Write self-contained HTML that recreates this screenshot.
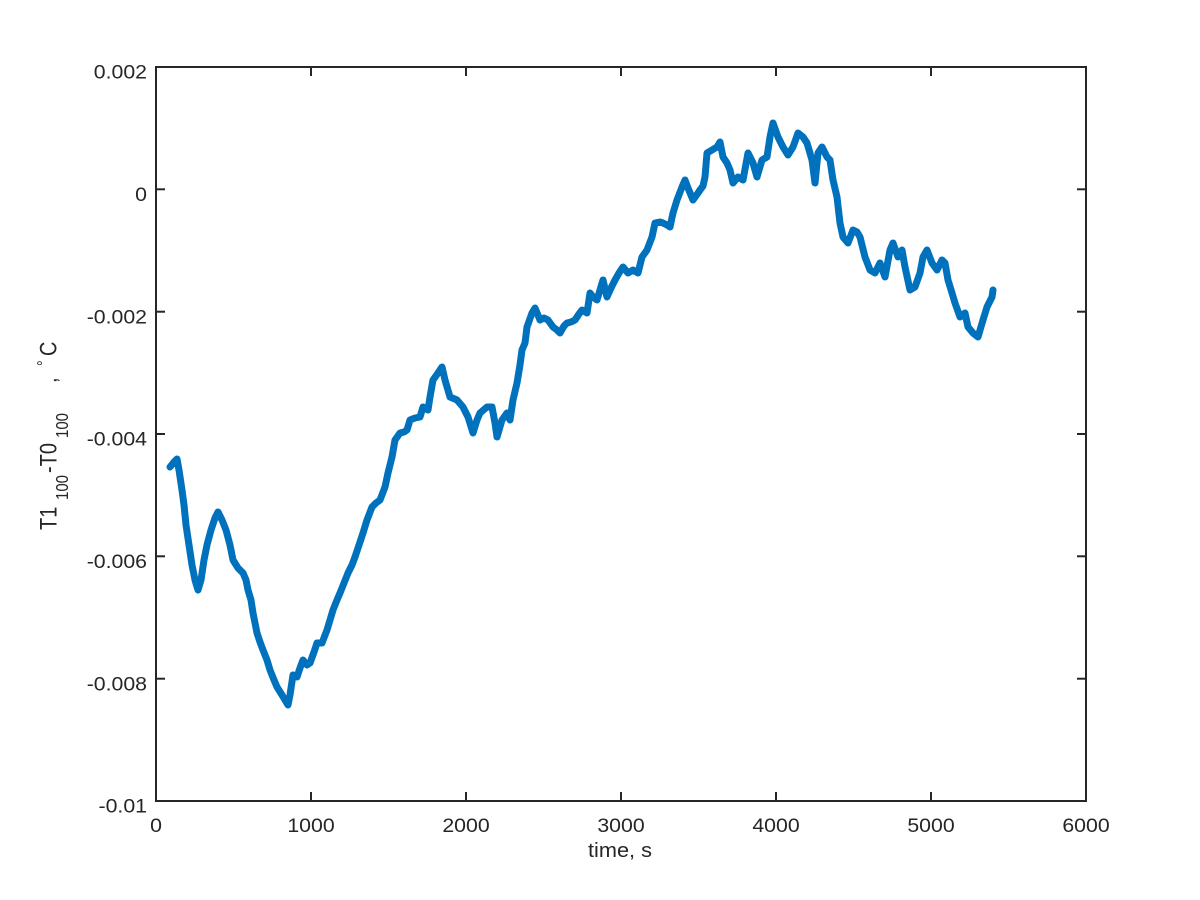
<!DOCTYPE html>
<html>
<head>
<meta charset="utf-8">
<style>
  html, body { margin: 0; padding: 0; background: #ffffff; }
  svg { display: block; }
  text { font-family: "Liberation Sans", "DejaVu Sans", sans-serif; fill: #262626; }
</style>
</head>
<body>
<svg width="1200" height="900" viewBox="0 0 1200 900" xmlns="http://www.w3.org/2000/svg">
  <rect x="0" y="0" width="1200" height="900" fill="#ffffff"/>

  <!-- data trace -->
  <polyline fill="none" stroke="#0072BD" stroke-width="7" stroke-linejoin="round" stroke-linecap="round"
    points="170,467 174,462 177,459 179,470 182,490 184,505 186,525 189,545 192,565 195,580 198,590 201,580 204,560 207,545 211,530 215,518 218,512 222,520 226,530 230,545 233,560 238,568 243,573 246,580 248,590 251,600 253,613 257,633 260,642 263,650 267,660 270,670 274,680 277,687 282,695 285,700 288,705 290,695 293,675 297,677 300,668 303,660 307,665 310,663 314,652 317,643 322,643 327,630 330,620 333,610 337,600 340,593 344,583 348,573 352,565 355,557 359,545 363,533 367,520 372,507 376,503 380,500 385,487 388,473 392,457 395,440 400,433 404,432 407,430 410,420 415,418 420,417 423,407 428,410 430,397 433,380 438,373 442,367 445,380 450,397 457,400 463,407 468,417 473,433 477,420 480,413 487,407 492,407 495,423 497,437 502,420 507,413 510,420 513,400 517,383 520,365 522,350 525,343 527,327 532,313 535,308 540,320 544,318 548,320 553,327 557,330 560,333 564,326 567,323 571,322 575,320 579,314 582,310 587,313 590,293 593,297 597,300 600,290 603,280 607,297 611,288 615,280 619,273 623,267 628,273 633,270 638,273 642,257 647,250 652,237 655,223 660,222 663,223 667,225 670,227 673,213 677,200 682,187 685,180 688,188 693,200 698,193 700,190 703,186 705,177 707,153 712,150 717,147 720,142 723,157 727,163 730,170 733,183 738,177 743,180 748,153 753,163 757,177 762,160 767,157 770,137 773,123 778,137 783,147 788,155 793,147 798,133 803,137 807,143 812,160 815,183 818,153 822,147 827,157 830,160 833,180 837,197 840,223 843,237 848,243 853,230 857,232 860,237 865,257 870,270 875,273 880,263 885,277 890,250 893,243 898,257 902,250 905,267 910,290 915,287 920,273 923,257 927,250 932,263 937,270 942,260 945,263 948,280 952,293 955,303 960,317 965,313 968,327 973,333 978,337 983,320 987,307 992,297 993,290"/>

  <!-- axes box -->
  <rect x="156" y="67" width="930" height="734" fill="none" stroke="#262626" stroke-width="2"/>

  <!-- ticks -->
  <g stroke="#262626" stroke-width="2">
    <!-- bottom / top x ticks -->
    <line x1="311" y1="801" x2="311" y2="792"/><line x1="311" y1="67" x2="311" y2="76"/>
    <line x1="466" y1="801" x2="466" y2="792"/><line x1="466" y1="67" x2="466" y2="76"/>
    <line x1="621" y1="801" x2="621" y2="792"/><line x1="621" y1="67" x2="621" y2="76"/>
    <line x1="776" y1="801" x2="776" y2="792"/><line x1="776" y1="67" x2="776" y2="76"/>
    <line x1="931" y1="801" x2="931" y2="792"/><line x1="931" y1="67" x2="931" y2="76"/>
    <!-- left / right y ticks -->
    <line x1="156" y1="189.3" x2="165" y2="189.3"/><line x1="1086" y1="189.3" x2="1077" y2="189.3"/>
    <line x1="156" y1="311.7" x2="165" y2="311.7"/><line x1="1086" y1="311.7" x2="1077" y2="311.7"/>
    <line x1="156" y1="434" x2="165" y2="434"/><line x1="1086" y1="434" x2="1077" y2="434"/>
    <line x1="156" y1="556.3" x2="165" y2="556.3"/><line x1="1086" y1="556.3" x2="1077" y2="556.3"/>
    <line x1="156" y1="678.7" x2="165" y2="678.7"/><line x1="1086" y1="678.7" x2="1077" y2="678.7"/>
  </g>

  <!-- y tick labels -->
  <g font-size="19" text-anchor="end">
    <text transform="translate(147,78.7) scale(1.12,1)">0.002</text>
    <text transform="translate(147,201) scale(1.12,1)">0</text>
    <text transform="translate(147,323.4) scale(1.12,1)">-0.002</text>
    <text transform="translate(147,445.7) scale(1.12,1)">-0.004</text>
    <text transform="translate(147,568) scale(1.12,1)">-0.006</text>
    <text transform="translate(147,690.4) scale(1.12,1)">-0.008</text>
    <text transform="translate(147,812.7) scale(1.12,1)">-0.01</text>
  </g>

  <!-- x tick labels -->
  <g font-size="19" text-anchor="middle">
    <text transform="translate(156,832) scale(1.12,1)">0</text>
    <text transform="translate(311,832) scale(1.12,1)">1000</text>
    <text transform="translate(466,832) scale(1.12,1)">2000</text>
    <text transform="translate(621,832) scale(1.12,1)">3000</text>
    <text transform="translate(776,832) scale(1.12,1)">4000</text>
    <text transform="translate(931,832) scale(1.12,1)">5000</text>
    <text transform="translate(1086,832) scale(1.12,1)">6000</text>
  </g>

  <!-- x axis label -->
  <text x="620" y="857" font-size="20" text-anchor="middle" textLength="64" lengthAdjust="spacingAndGlyphs">time, s</text>

  <!-- y axis label (rotated) -->
  <g transform="translate(56.7,0) scale(1.22,1) rotate(-90)">
    <text x="-530" y="0" font-size="20">T1</text>
    <text x="-500" y="9.3" font-size="14.5" textLength="25" lengthAdjust="spacingAndGlyphs">100</text>
    <text x="-473" y="0" font-size="20">-T0</text>
    <text x="-438" y="9.3" font-size="14.5" textLength="25" lengthAdjust="spacingAndGlyphs">100</text>
    <text x="-383" y="0" font-size="20">,</text>
    <text x="-366" y="-6" font-size="14">°</text>
    <text x="-356" y="0" font-size="20">C</text>
  </g>
</svg>
</body>
</html>
